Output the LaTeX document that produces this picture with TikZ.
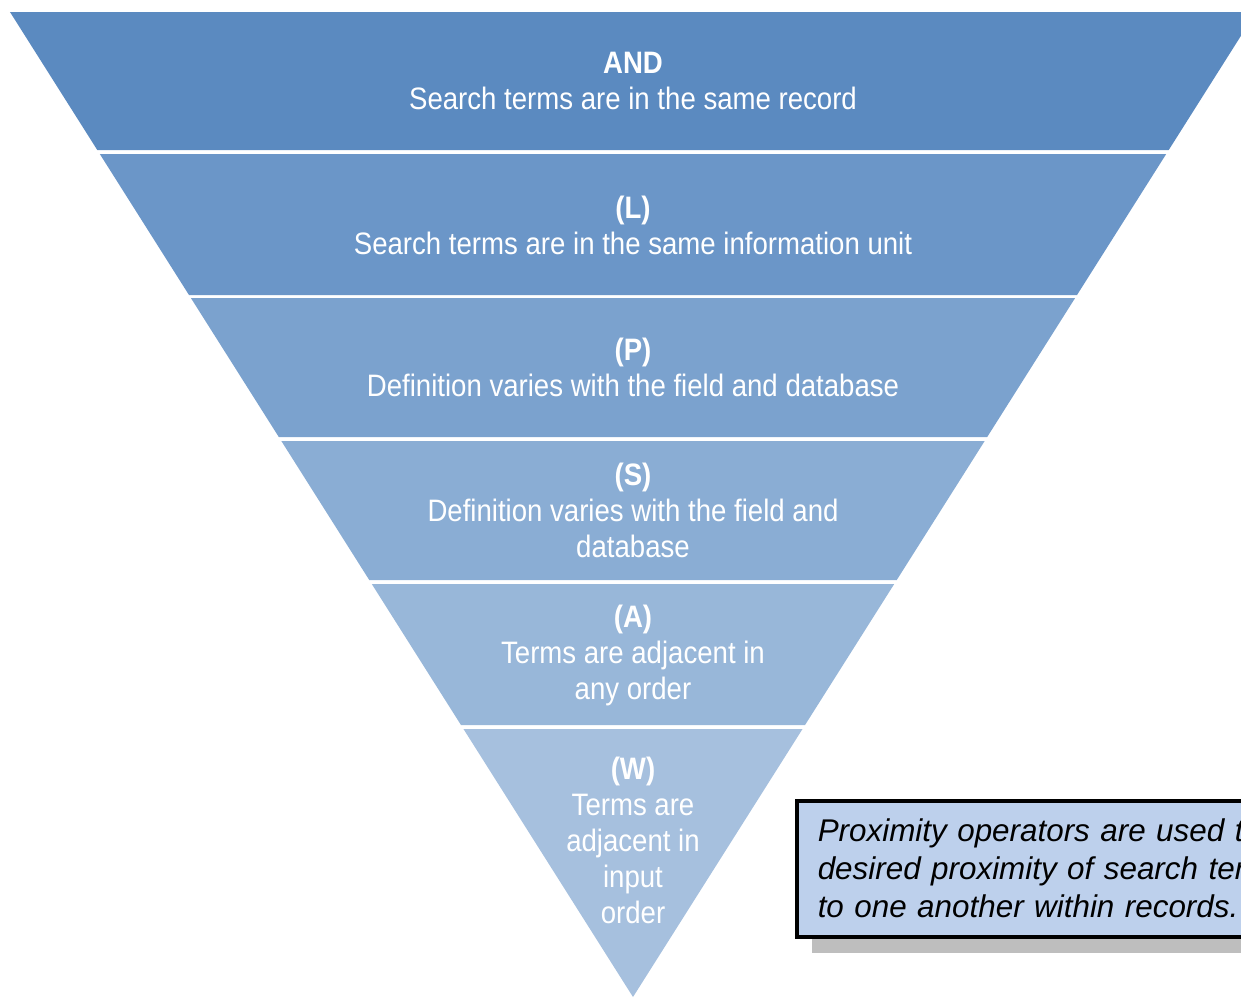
\documentclass[tikz,border=0pt]{standalone}
\usepackage{fontspec}
\setmainfont{Liberation Sans}
\newfontfamily\narrowfont[FakeStretch=0.89]{Liberation Sans}
\usetikzlibrary{positioning,shadows}
\definecolor{bandA}{RGB}{91,138,192}
\definecolor{bandB}{RGB}{107,150,200}
\definecolor{bandC}{RGB}{123,162,206}
\definecolor{bandD}{RGB}{138,173,212}
\definecolor{bandE}{RGB}{152,183,217}
\definecolor{bandF}{RGB}{166,192,222}
\definecolor{notefill}{RGB}{189,208,236}
\definecolor{notegray}{RGB}{190,190,190}

\begin{document}
\begin{tikzpicture}[x=1pt, y=-1pt,
    bandtext/.style={text=white, align=center, font=\narrowfont\fontsize{31}{36}\selectfont},
    notebox/.style={draw=black, line width=3.5pt, fill=notefill, anchor=north west, align=left,
      text width=620pt, minimum height=136pt, inner xsep=21pt,
      font=\itshape\fontsize{31.4}{38}\selectfont,
      drop shadow={shadow xshift=15pt, shadow yshift=-16pt, fill=notegray, opacity=1}}]
  \useasboundingbox (0,0) rectangle (1241,997);
  \clip (0,0) rectangle (1241,997);
  % bands of the funnel
  \foreach \ytop/\ybot/\col in {12/150/bandA, 154/295/bandB, 298/437/bandC, 441/580/bandD, 584/725/bandE, 729/997/bandF} {
    \pgfmathsetmacro\wtop{0.632487*(997-\ytop)}
    \pgfmathsetmacro\wbot{0.632487*(997-\ybot)}
    \fill[\col] ({633-\wtop},\ytop) -- ({633+\wtop},\ytop) -- ({633+\wbot},\ybot) -- ({633-\wbot},\ybot) -- cycle;
  }
  \node[bandtext] (and) at (633,81) {\textbf{AND}\\Search terms are in the same record};
  \node[bandtext] (l) at (633,225) {\textbf{(L)}\\Search terms are in the same information unit};
  \node[bandtext] (p) at (633,367) {\textbf{(P)}\\Definition varies with the field and database};
  \node[bandtext] (s) at (633,510) {\textbf{(S)}\\Definition varies with the field and\\database};
  \node[bandtext] (a) at (633,655) {\textbf{(A)}\\Terms are adjacent in\\any order};
  \node[bandtext] (w) at (633,840) {\textbf{(W)}\\Terms are\\adjacent in\\input\\order};
  % note
  \node[notebox] (note) at (795,799) {Proximity operators are used to\\desired proximity of search terms\\to one another within records.};
\end{tikzpicture}
\end{document}
